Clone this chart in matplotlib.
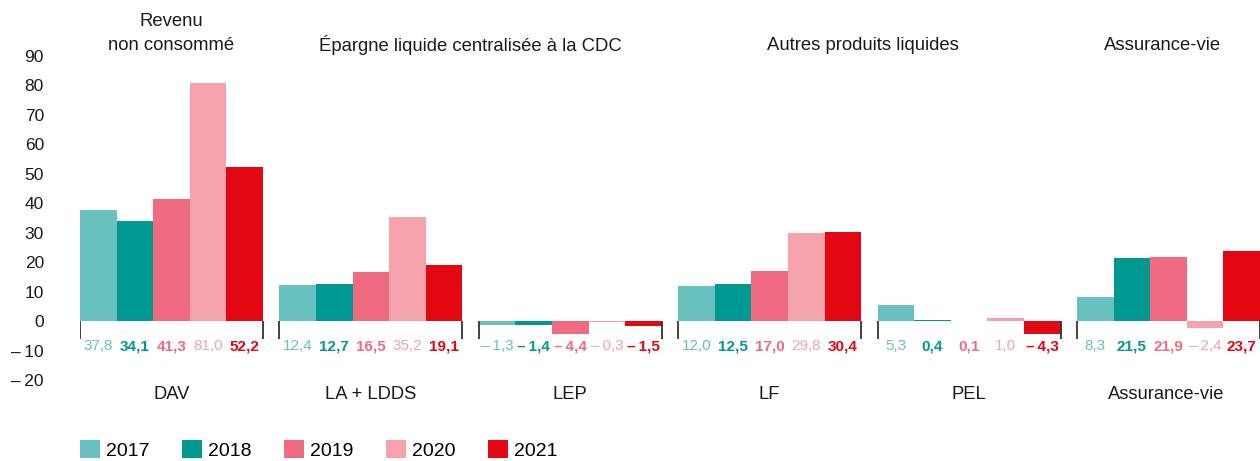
import matplotlib
matplotlib.use("Agg")
import matplotlib.pyplot as plt
import matplotlib.transforms as mtransforms
from matplotlib.patches import Patch

plt.rcParams['font.family'] = ['Liberation Sans', 'DejaVu Sans']

categories = ["DAV", "LA + LDDS", "LEP", "LF", "PEL", "Assurance-vie"]
years = ["2017", "2018", "2019", "2020", "2021"]
values = {
    "2017": [37.8, 12.4, -1.3, 12.0, 5.3, 8.3],
    "2018": [34.1, 12.7, -1.4, 12.5, 0.4, 21.5],
    "2019": [41.3, 16.5, -4.4, 17.0, 0.1, 21.9],
    "2020": [81.0, 35.2, -0.3, 29.8, 1.0, -2.4],
    "2021": [52.2, 19.1, -1.5, 30.4, -4.3, 23.7],
}
colors = ["#68C1BE", "#009991", "#EE6B82", "#F4A3AC", "#E30613"]
weights = ["normal", "bold", "bold", "normal", "bold"]
yticks = [-20, -10, 0, 10, 20, 30, 40, 50, 60, 70, 80, 90]
top_titles = [("Revenu", 0.0, 22), ("non consommé", 0.0, 45),
              ("Épargne liquide centralisée à la CDC", 1.5, 45),
              ("Autres produits liquides", 3.47, 45),
              ("Assurance-vie", 4.97, 45)]

def fmt(v):
    s = f"{abs(v):.1f}".replace(".", ",")
    return ("\u2013\u2009" + s) if v < 0 else s

W, H = 1260, 461
fig = plt.figure(figsize=(W / 100, H / 100), dpi=100)
ax = fig.add_axes([80 / W, (H - 380) / H, 1180 / W, 324 / H])

gw = 0.918
bw = gw / 5
for j, y in enumerate(years):
    xs = [i - gw / 2 + bw * (j + 0.5) for i in range(len(categories))]
    ax.bar(xs, values[y], width=bw, color=colors[j], linewidth=0, zorder=2)
    for x, v in zip(xs, values[y]):
        ax.text(x, -8.6, fmt(v), ha="center", va="center", fontsize=11,
                color=colors[j], fontweight=weights[j])

for i in range(len(categories)):
    for e in (i - gw / 2, i + gw / 2):
        ax.plot([e, e], [0, -6], color="#333333", lw=1.3, solid_capstyle="butt")

ax.set_xlim(-gw / 2, len(categories) - 1 + gw / 2)
ax.set_ylim(-20, 90)
ax.set_yticks(yticks)
ax.set_yticklabels([("\u2013\u2009" + str(abs(t))) if t < 0 else str(t) for t in yticks],
                   fontsize=12.5, color="#1a1a1a")
ax.tick_params(axis="y", length=0, pad=26)
ax.set_xticks([])
for s in ax.spines.values():
    s.set_visible(False)

trans = mtransforms.blended_transform_factory(ax.transData, fig.transFigure)
for i, c in enumerate(categories):
    xc = i if i < 5 else 4.99
    ax.text(xc, 1 - 394 / H, c, transform=trans, ha="center", va="center",
            fontsize=13.2, color="#1a1a1a")
for t, x, yp in top_titles:
    ax.text(x, 1 - yp / H, t, transform=trans, ha="center", va="center",
            fontsize=13.3, color="#1a1a1a")

handles = [Patch(facecolor=c, edgecolor="none", label=y) for c, y in zip(colors, years)]
fig.legend(handles=handles, loc="lower left", bbox_to_anchor=(80 / W, 1 / H),
           ncol=5, frameon=False, fontsize=14, handlelength=1.05, handleheight=1.05,
           handletextpad=0.3, columnspacing=1.66, borderpad=0, borderaxespad=0)

fig.savefig("out.png", dpi=100)
